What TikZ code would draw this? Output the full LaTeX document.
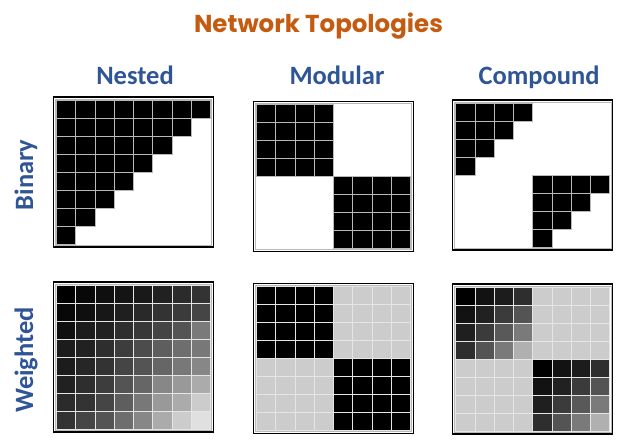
\documentclass[tikz,border=0pt]{standalone}
\usepackage{fontspec}
\setmainfont{Carlito}
\newfontfamily\titlefont{Poppins}
\usepackage{tikz}
\definecolor{titleorange}{HTML}{C55A11}
\definecolor{headblue}{HTML}{2F5597}
\tikzset{
  frame/.style    = {draw=black, line width=1.5pt},
  innerframe/.style = {draw=gray!55, line width=0.5pt},
  bincell/.style  = {fill=black, draw=gray!55, line width=0.8pt},
  wtcell/.style   = {draw=white!80!gray, line width=0.9pt},
  head/.style     = {font=\fontsize{26.5}{30}\selectfont\bfseries, text=headblue, anchor=base},
  rowlbl/.style   = {head, rotate=90},
}
\newcommand{\matframe}[2]{%
  \draw[frame] (#1,#2) rectangle ++(160,150);
  \draw[innerframe] ({#1+1.8},{#2+1.8}) rectangle ++(156.4,146.4);
}
\newcommand{\bcell}[4]{%
  \filldraw[bincell] ({#1+3+(#4)*19.25},{#2+3+(#3)*18}) rectangle ++(19.25,18);
}
\newcommand{\wcell}[5]{%
  \filldraw[wtcell, fill=black!#5] ({#1+3+(#4)*19.25},{#2+3+(#3)*18}) rectangle ++(19.25,18);
}
\begin{document}
\begin{tikzpicture}[x=1pt, y=-1pt]
  \useasboundingbox (0,0) rectangle (628,447);
  \node[font=\titlefont\fontsize{24.5}{28}\selectfont\bfseries, text=titleorange, anchor=base]
    (title) at (318.5,32) {Network Topologies};
  \node[head] (nested)   at (135,84) {Nested};
  \node[head] (modular)  at (337,84) {Modular};
  \node[head] (compound) at (539,84) {Compound};
  \node[rowlbl] (binary)   at (33,175) {Binary};
  \node[rowlbl] (weighted) at (33,360) {Weighted};
  % binary row
  \foreach \r in {0,...,7}{
    \pgfmathtruncatemacro\last{7-\r}
    \foreach \c in {0,...,\last}{\bcell{53.5}{97}{\r}{\c}}
  }
  \foreach \r in {0,...,3}{
    \foreach \c in {0,...,3}{
      \bcell{253.5}{101.5}{\r}{\c}
      \bcell{253.5}{101.5}{\r+4}{\c+4}
    }
  }
  \foreach \r in {0,...,3}{
    \pgfmathtruncatemacro\last{3-\r}
    \foreach \c in {0,...,\last}{
      \bcell{452.7}{100}{\r}{\c}
      \bcell{452.7}{100}{\r+4}{\c+4}
    }
  }
  \matframe{53.5}{97}
  \matframe{253.5}{101.5}
  \matframe{452.7}{100}
  % weighted row
  \foreach \row [count=\r from 0] in {{100,97,94,92,90,87,83,80},
      {97,94,91,88,84,80,77,73},{94,89,87,82,78,73,67,52},
      {89,87,82,76,70,63,57,53},{89,85,80,73,67,60,53,47},
      {87,82,76,67,60,47,40,33},{83,80,73,63,53,40,33,20},
      {80,73,67,57,47,33,20,12}}{
    \foreach \v [count=\c from 0] in \row {\wcell{53.5}{282}{\r}{\c}{\v}}
  }
  \foreach \r in {0,...,3}{
    \foreach \c in {0,...,3}{
      \wcell{253.5}{283.5}{\r}{\c}{100}
      \wcell{253.5}{283.5}{\r}{\c+4}{20}
      \wcell{253.5}{283.5}{\r+4}{\c}{20}
      \wcell{253.5}{283.5}{\r+4}{\c+4}{100}
    }
  }
  \foreach \row [count=\r from 0] in {{100,93,89,82},{93,87,77,67},
      {88,77,65,52},{82,67,52,31}}{
    \foreach \v [count=\c from 0] in \row {
      \wcell{452.7}{284}{\r}{\c}{\v}
      \wcell{452.7}{284}{\r}{\c+4}{20}
      \wcell{452.7}{284}{\r+4}{\c}{20}
      \wcell{452.7}{284}{\r+4}{\c+4}{\v}
    }
  }
  \matframe{53.5}{282}
  \matframe{253.5}{283.5}
  \matframe{452.7}{284}
\end{tikzpicture}
\end{document}
